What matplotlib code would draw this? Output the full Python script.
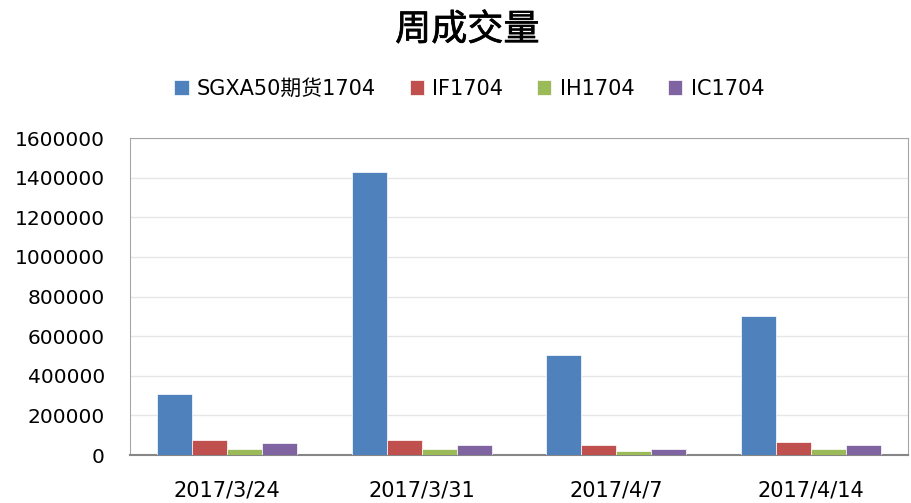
import numpy as np
import matplotlib.pyplot as plt
import matplotlib.patheffects as pe

# weekly volume data
dates = ['2017/3/24', '2017/3/31', '2017/4/7', '2017/4/14']
series_names = ['SGXA50期货1704', 'IF1704', 'IH1704', 'IC1704']
sgx = [310000, 1430000, 505000, 700000]
if_vol = [76000, 76000, 49000, 67000]
ih_vol = [30000, 30000, 22000, 30000]
ic_vol = [59000, 49000, 30000, 49000]
colors = ['#4F81BD', '#C0504D', '#9BBB59', '#8064A2']

plt.rcParams['font.family'] = ['DejaVu Sans', 'Noto Sans CJK SC']

fig = plt.figure(figsize=(9.11, 5.03), dpi=100)
ax = fig.add_axes([0.1427, 0.0954, 0.854, 0.6302])

x = np.arange(len(dates))
width = 0.18
all_series = [sgx, if_vol, ih_vol, ic_vol]
for i, (name, vals) in enumerate(zip(series_names, all_series)):
    ax.bar(x + (i - 1.5) * width, vals, width, color=colors[i], label=name,
           edgecolor='white', linewidth=0.5, zorder=3)

ax.set_xlim(-0.5, len(dates) - 0.5)
ax.set_ylim(0, 1600000)
ax.set_yticks(np.arange(0, 1600001, 200000))
ax.set_yticklabels([str(v) for v in range(0, 1600001, 200000)], fontsize=14.5)
ax.set_xticks(x)
ax.set_xticklabels(dates, fontsize=15)
ax.tick_params(axis='both', length=0)
ax.tick_params(axis='y', pad=18)
ax.tick_params(axis='x', pad=18)

ax.yaxis.grid(True, color='#E6E6E6', linewidth=1, zorder=0)
for side in ['left', 'top', 'right']:
    ax.spines[side].set_color('#A6A6A6')
ax.spines['bottom'].set_color('#868686')
ax.spines['bottom'].set_linewidth(1.5)

# title, thickened a little with a stroke
fig.text(0.513, 0.94, '周成交量', ha='center', va='center', fontsize=26,
         family=['Noto Sans CJK SC'],
         path_effects=[pe.withStroke(linewidth=0.5, foreground='black')])
fig.legend(loc='center', bbox_to_anchor=(0.515, 0.823), ncol=4, frameon=False,
           fontsize=15, handlelength=0.7, handleheight=0.7, handletextpad=0.4,
           columnspacing=1.6)

plt.savefig('out.png', dpi=100)
